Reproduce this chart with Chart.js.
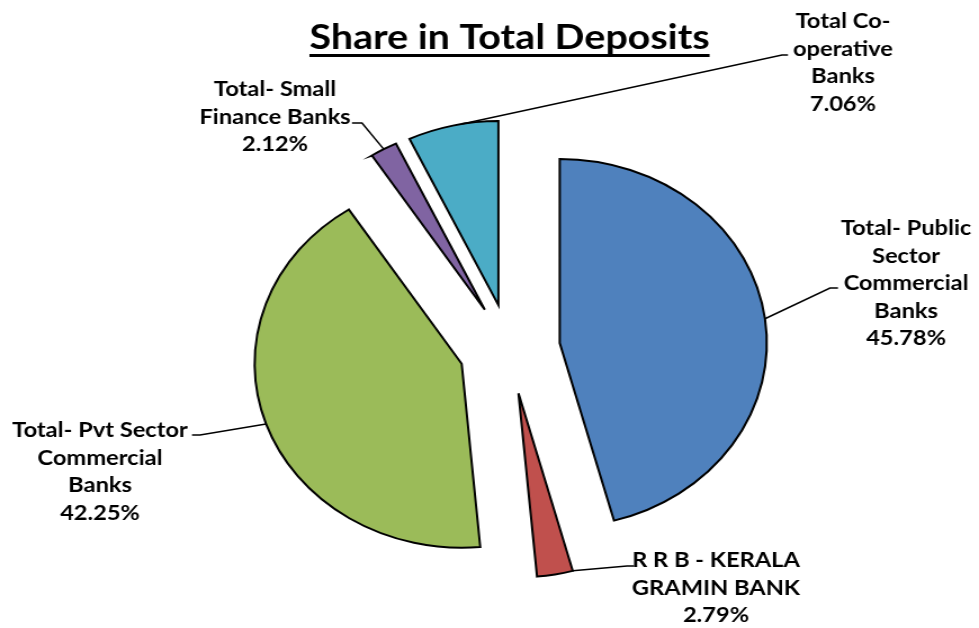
<!DOCTYPE html>
<html>
<head>
<meta charset="utf-8">
<script src="https://cdn.jsdelivr.net/npm/chart.js@4.4.1/dist/chart.umd.min.js"></script>
<style>
  html, body { margin: 0; padding: 0; background: #fff; overflow: hidden; }
  #grafico { display: block; }
</style>
</head>
<body>
<!-- el lienzo se estira en horizontal, igual que la imagen original -->
<canvas id="grafico" width="870" height="628" style="width:979px;height:628px"></canvas>
<script>
// --- Datos ---
const titulo = "Share in Total Deposits";
const categorias = [
  "Total- Public Sector Commercial Banks",
  "R R B - KERALA GRAMIN BANK",
  "Total- Pvt Sector Commercial Banks",
  "Total- Small Finance Banks",
  "Total Co-operative Banks"
];
const participacion = [45.78, 2.79, 42.25, 2.12, 7.06];
const lineasEtiqueta = [
  ["Total- Public", "Sector", "Commercial", "Banks"],
  ["R R B - KERALA", "GRAMIN BANK"],
  ["Total- Pvt Sector", "Commercial", "Banks"],
  ["Total- Small", "Finance Banks"],
  ["Total Co-", "operative", "Banks"]
];

// --- Estilo / posiciones (coordenadas de pantalla) ---
const colores = ["#4F81BD", "#C0504D", "#9BBB59", "#8064A2", "#4BACC6"];
const ESTIRA = 979 / 870;      // estiramiento horizontal del canvas
const RADIO = 184;
const EXPLOTE = 45;
const FUENTE = "Lato, 'Open Sans', sans-serif";
const ALTO_LINEA = 27.5;

const posEtiquetas = [
  { cx: 906, base: 235, anclaje: 0.5, codo: [830, 288], fin: [838, 288] },
  { cx: 716, base: 567, anclaje: 0.0, codo: [627, 566], fin: [634, 566] },
  { cx: 100, base: 437, anclaje: 0.5, codo: [200, 435], fin: [192, 435] },
  { cx: 275, base: 96,  anclaje: 0.5, codo: [362, 123], fin: [352, 123] },
  { cx: 843, base: 28,  anclaje: 0.6, codo: [782, 55],  fin: [788, 55] }
];

// --- Separar porciones (pie explotado) ---
const explotar = {
  id: "explotar",
  afterDatasetUpdate(chart, args) {
    args.meta.data.forEach(arc => {
      const mid = (arc.startAngle + arc.endAngle) / 2;
      arc.x += Math.cos(mid) * EXPLOTE;
      arc.y += Math.sin(mid) * EXPLOTE;
    });
  }
};

// --- Título y etiquetas con líneas guía ---
const etiquetas = {
  id: "etiquetas",
  afterDraw(chart) {
    const ctx = chart.ctx;
    ctx.save();
    ctx.fillStyle = "#000";
    ctx.textAlign = "center";
    ctx.textBaseline = "alphabetic";

    // título subrayado
    const tx = 509.5 / ESTIRA;
    ctx.font = "bold 35px " + FUENTE;
    ctx.fillText(titulo, tx, 49);
    const ancho = ctx.measureText(titulo).width;
    ctx.fillRect(tx - ancho / 2, 54, ancho, 3);

    // líneas guía
    const arcos = chart.getDatasetMeta(0).data;
    ctx.strokeStyle = "#000";
    ctx.lineWidth = 1.5;
    arcos.forEach((arc, i) => {
      const p = posEtiquetas[i];
      const a = arc.startAngle + p.anclaje * (arc.endAngle - arc.startAngle);
      ctx.beginPath();
      ctx.moveTo(arc.x + Math.cos(a) * arc.outerRadius, arc.y + Math.sin(a) * arc.outerRadius);
      ctx.lineTo(p.codo[0] / ESTIRA, p.codo[1]);
      ctx.lineTo(p.fin[0] / ESTIRA, p.fin[1]);
      ctx.stroke();
    });

    // textos
    ctx.font = "bold 21px " + FUENTE;
    participacion.forEach((v, i) => {
      const p = posEtiquetas[i];
      const lineas = lineasEtiqueta[i].concat([v.toFixed(2) + "%"]);
      lineas.forEach((l, j) => {
        ctx.fillText(l, p.cx / ESTIRA, p.base + j * ALTO_LINEA);
      });
    });
    ctx.restore();
  }
};

const ctx = document.getElementById("grafico").getContext("2d");
new Chart(ctx, {
  type: "pie",
  data: {
    labels: categorias,
    datasets: [{
      data: participacion,
      backgroundColor: colores,
      borderColor: "#000",
      borderWidth: 2,
      borderJoinStyle: "miter"
    }]
  },
  options: {
    responsive: false,
    animation: false,
    events: [],
    radius: RADIO,
    layout: { padding: { left: 35.6, right: 0, top: 70, bottom: 0 } },
    plugins: {
      legend: { display: false },
      tooltip: { enabled: false },
      title: { display: false }
    }
  },
  plugins: [explotar, etiquetas]
});
</script>
</body>
</html>
